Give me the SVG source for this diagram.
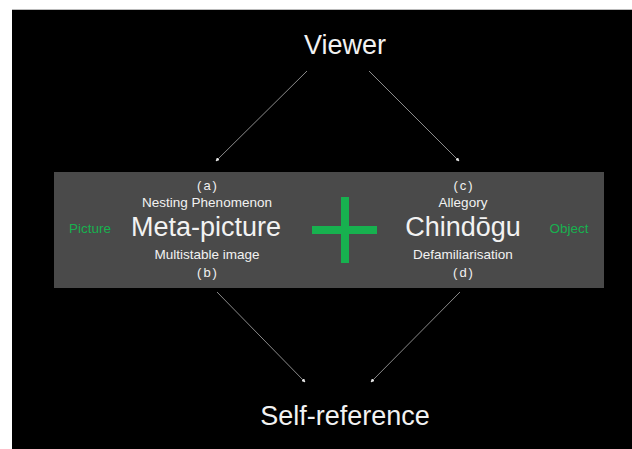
<svg xmlns="http://www.w3.org/2000/svg" width="632" height="449" viewBox="0 0 632 449">
<defs>
<style>
.t{font-family:"Liberation Sans",Arial,sans-serif;fill:#f2f2f2;text-anchor:middle}
.big{font-size:27px}
.mid{font-size:13.5px}
.lab{font-size:13px;letter-spacing:2px}
.g{font-family:"Liberation Sans",Arial,sans-serif;fill:#17b14f;font-size:13.5px;text-anchor:middle}
.c{stroke:#8a8a8a;stroke-width:1;fill:none;marker-end:url(#ah)}
</style>
<marker id="ah" viewBox="0 0 6 6" refX="5" refY="3" markerWidth="4" markerHeight="4" markerUnits="userSpaceOnUse" orient="auto">
<path d="M0,0 L6,3 L0,6 Z" fill="#e6e6e6"/>
</marker>
</defs>
<rect x="0" y="0" width="632" height="449" fill="#ffffff"/>
<rect x="12" y="10" width="620" height="439" fill="#000000"/>
<line x1="12" y1="9.5" x2="632" y2="9.5" stroke="#bbbbbb" stroke-width="1"/>
<g id="viewer"><text class="t big" x="345" y="54">Viewer</text></g>
<g id="box">
<rect x="54" y="172" width="550" height="116" fill="#4a4a4a"/>
</g>
<g id="meta-picture">
<text class="t lab" x="208" y="190">(a)</text>
<text class="t mid" x="207" y="207">Nesting Phenomenon</text>
<text class="t big" x="206" y="236">Meta-picture</text>
<text class="t mid" x="207" y="259">Multistable image</text>
<text class="t lab" x="208" y="277">(b)</text>
</g>
<g id="picture"><text class="g" x="90" y="233">Picture</text></g>
<g id="plus">
<rect x="341" y="197" width="8" height="66" fill="#17b14f"/>
<rect x="312" y="226" width="65" height="8" fill="#17b14f"/>
</g>
<g id="chindogu">
<text class="t lab" x="464" y="190">(c)</text>
<text class="t mid" x="463" y="207">Allegory</text>
<text class="t big" x="463" y="236">Chindōgu</text>
<text class="t mid" x="463" y="259">Defamiliarisation</text>
<text class="t lab" x="464" y="277">(d)</text>
</g>
<g id="object"><text class="g" x="569" y="233">Object</text></g>
<g id="self-reference"><text class="t big" x="345" y="425">Self-reference</text></g>
<g id="connectors">
<line class="c" x1="307" y1="71" x2="216" y2="161"/>
<line class="c" x1="369" y1="71" x2="459" y2="161"/>
<line class="c" x1="217" y1="292" x2="305" y2="382"/>
<line class="c" x1="460" y1="292" x2="371" y2="382"/>
</g>
</svg>
